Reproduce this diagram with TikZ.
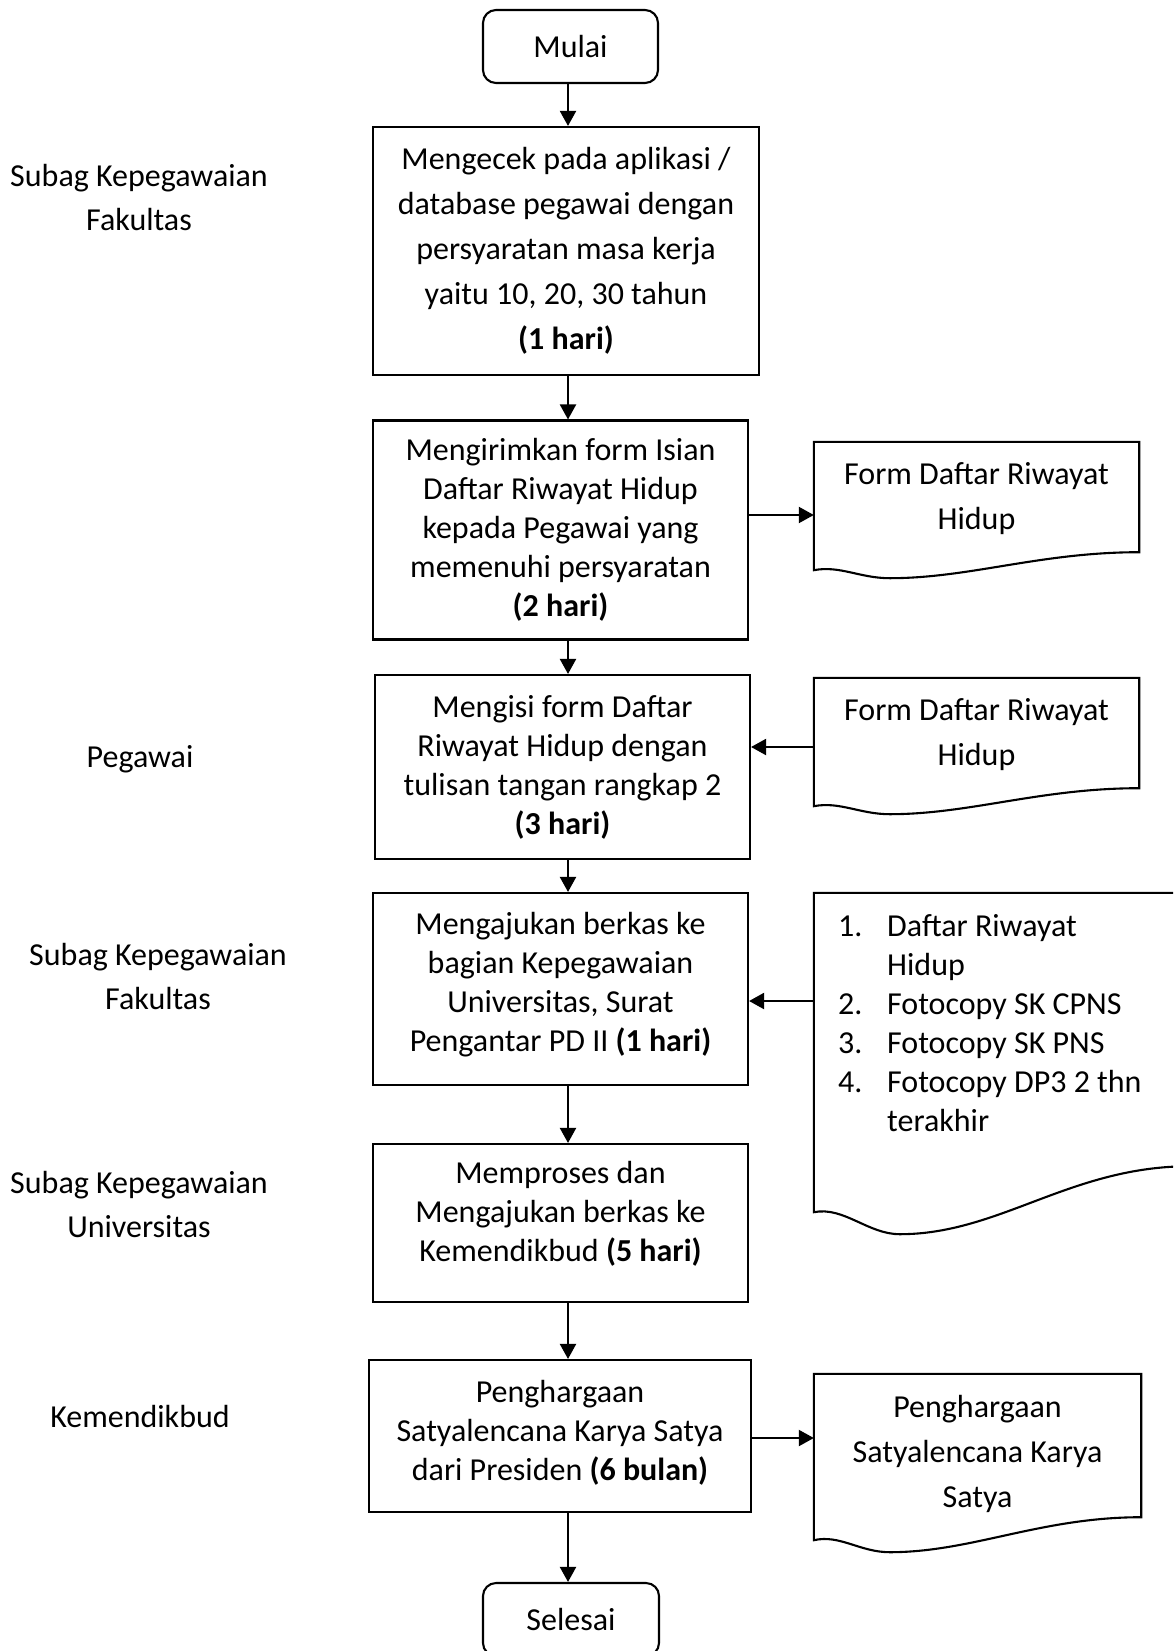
\documentclass[tikz,border=0pt]{standalone}
\usepackage{fontspec}
\setmainfont{Carlito}
\usetikzlibrary{arrows.meta,calc}
\begin{document}
\begin{tikzpicture}[x=1pt,y=-1pt,
  lw/.style={line width=2.1pt},
  procbox/.style={draw, lw, rectangle, inner sep=0pt, align=center, font=\fontsize{32}{39}\selectfont},
  wide/.style={font=\fontsize{32}{45}\selectfont},
  termbox/.style={procbox, rounded corners=13pt},
  txt/.style={inner sep=0pt, align=center, font=\fontsize{32}{39}\selectfont},
  docnode/.style={rectangle, inner sep=0pt, align=center, font=\fontsize{32}{45}\selectfont},
  docline/.style={draw, lw, line join=miter},
  lbl/.style={align=center, inner sep=0pt, font=\fontsize{32}{44}\selectfont},
  arr/.style={lw, -{Triangle[length=15pt,width=16pt]}}]
\useasboundingbox (0,0) rectangle (1173,1651);
\clip (0,0) rectangle (1173,1651);
\fill[white] (0,0) rectangle (1173,1651);

% main flow
\node[termbox, minimum width=175pt, minimum height=73pt] (mulai) at (570.5,46.5) {Mulai};
\node[procbox, wide, minimum width=386pt, minimum height=248pt] (b1) at (566,251)
  {Mengecek pada aplikasi /\\database pegawai dengan\\persyaratan masa kerja\\yaitu 10, 20, 30 tahun\\\textbf{(1 hari)}};
\node[procbox, minimum width=375pt, minimum height=219pt] (b2) at (560.5,530)
  {Mengirimkan form Isian\\Daftar Riwayat Hidup\\kepada Pegawai yang\\memenuhi persyaratan\\\textbf{(2 hari)}};
\node[procbox, minimum width=375pt, minimum height=184pt] (b3) at (562.5,767)
  {Mengisi form Daftar\\Riwayat Hidup dengan\\tulisan tangan rangkap 2\\\textbf{(3 hari)}};
\node[procbox, minimum width=375pt, minimum height=192pt] (b4) at (560.5,989) {};
\node[txt] (b4t) at ($(b4)+(0,-4.5)$)
  {Mengajukan berkas ke\\bagian Kepegawaian\\Universitas, Surat\\Pengantar PD II \textbf{(1 hari)}};
\node[procbox, minimum width=375pt, minimum height=158pt] (b5) at (560.5,1223) {};
\node[txt] (b5t) at ($(b5)+(0,-9)$)
  {Memproses dan\\Mengajukan berkas ke\\Kemendikbud \textbf{(5 hari)}};
\node[procbox, minimum width=382pt, minimum height=152pt] (b6) at (560,1436) {};
\node[txt] (b6t) at ($(b6)+(0,-3)$)
  {Penghargaan\\Satyalencana Karya Satya\\dari Presiden \textbf{(6 bulan)}};
\node[termbox, minimum width=176pt, minimum height=73pt] (selesai) at (571,1619.5) {Selesai};

% documents
\node[docnode, minimum width=325pt, minimum height=110pt] (d1) at (976.5,497) {};
\node[docnode] (d1t) at ($(d1)+(0,2)$) {Form Daftar Riwayat\\Hidup};
\draw[docline] (d1.north west) -- (d1.north east) -- (d1.south east)
  .. controls +(-99,0) and +(80,0) .. ($(d1.south west)+(76,26)$)
  .. controls +(-30,0) and +(26,-5) .. ($(d1.south west)+(0,18)$) -- cycle;

\node[docnode, minimum width=325pt, minimum height=110pt] (d2) at (976.5,733) {};
\node[docnode] (d2t) at ($(d2)+(0,2)$) {Form Daftar Riwayat\\Hidup};
\draw[docline] (d2.north west) -- (d2.north east) -- (d2.south east)
  .. controls +(-99,0) and +(80,0) .. ($(d2.south west)+(76,26)$)
  .. controls +(-30,0) and +(26,-5) .. ($(d2.south west)+(0,18)$) -- cycle;

\node[docnode, minimum width=376pt, minimum height=273pt] (d3) at (1002,1029.5) {};
\draw[docline] (d3.north west) -- (d3.north east) -- (d3.south east)
  .. controls +(-120,0) and +(100,0) .. ($(d3.south west)+(86,68)$)
  .. controls +(-32,0) and +(30,-6) .. ($(d3.south west)+(0,46)$) -- cycle;
\node[anchor=west, align=left, inner sep=0pt, font=\fontsize{32}{39}\selectfont] (d3t) at (838,1023.5)
  {\makebox[49pt][l]{1.}Daftar Riwayat\\\hspace*{49pt}Hidup\\\makebox[49pt][l]{2.}Fotocopy SK CPNS\\\makebox[49pt][l]{3.}Fotocopy SK PNS\\\makebox[49pt][l]{4.}Fotocopy DP3 2 thn\\\hspace*{49pt}terakhir};

\node[docnode, minimum width=327pt, minimum height=143pt] (d4) at (977.5,1445.5) {};
\node[docnode] (d4t) at ($(d4)+(0,8.5)$) {Penghargaan\\Satyalencana Karya\\Satya};
\draw[docline] (d4.north west) -- (d4.north east) -- (d4.south east)
  .. controls +(-101,0) and +(82,0) .. ($(d4.south west)+(76,35)$)
  .. controls +(-30,0) and +(26,-6) .. ($(d4.south west)+(0,23)$) -- cycle;

% left labels
\node[lbl] (l1) at (139,198) {Subag Kepegawaian\\Fakultas};
\node[lbl] (l2) at (140,759) {Pegawai};
\node[lbl] (l3) at (158,976) {Subag Kepegawaian\\Fakultas};
\node[lbl] (l4) at (139,1204.5) {Subag Kepegawaian\\Universitas};
\node[lbl] (l5) at (140,1416) {Kemendikbud};

% connectors
\coordinate (ax) at (568,0);
\draw[arr] (mulai.south -| ax) -- (b1.north -| ax);
\draw[arr] (b1.south -| ax) -- (b2.north -| ax);
\draw[arr] (b2.south -| ax) -- (b3.north -| ax);
\draw[arr] (b3.south -| ax) -- (b4.north -| ax);
\draw[arr] (b4.south -| ax) -- (b5.north -| ax);
\draw[arr] (b5.south -| ax) -- (b6.north -| ax);
\draw[arr] (b6.south -| ax) -- (selesai.north -| ax);

\coordinate (h1) at (0,515);
\coordinate (h2) at (0,747);
\coordinate (h3) at (0,1001);
\coordinate (h4) at (0,1438);
\draw[arr] (b2.east |- h1) -- (d1.west |- h1);
\draw[arr] (d2.west |- h2) -- (b3.east |- h2);
\draw[arr] (d3.west |- h3) -- (b4.east |- h3);
\draw[arr] (b6.east |- h4) -- (d4.west |- h4);
\end{tikzpicture}
\end{document}
